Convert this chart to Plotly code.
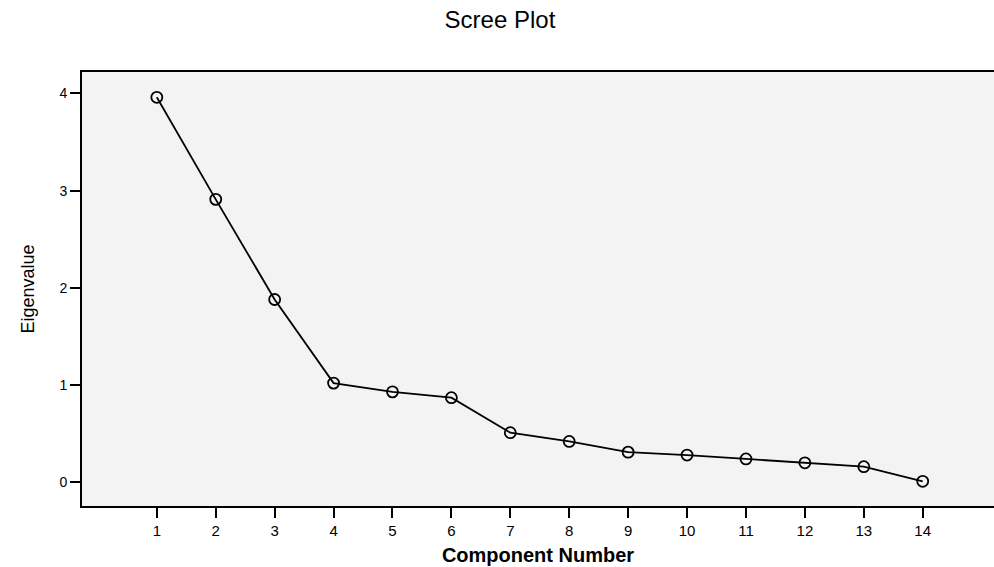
import plotly.graph_objects as go

components = list(range(1, 15))
eigenvalues = [3.96, 2.91, 1.88, 1.02, 0.93, 0.87, 0.51, 0.42, 0.31, 0.28, 0.24, 0.20, 0.16, 0.01]
x_ticks = list(range(1, 15))
y_ticks = [0, 1, 2, 3, 4]

fig = go.Figure()
fig.add_trace(go.Scatter(
    x=components, y=eigenvalues, mode="lines+markers",
    line=dict(color="black", width=1.8),
    marker=dict(symbol="circle-open", size=11, color="black", line=dict(width=1.8)),
    showlegend=False,
))

fig.update_layout(
    width=994, height=567,
    margin=dict(l=82, r=0, t=72, b=61),
    paper_bgcolor="white",
    plot_bgcolor="#f3f3f3",
    font=dict(family="Liberation Sans, Arial, sans-serif", color="black"),
    title=dict(text="Scree Plot", x=0.503, xanchor="center", y=0.966, yanchor="middle",
               font=dict(size=24, color="black")),
)
fig.update_xaxes(
    range=[-0.27, 15.21], tickvals=x_ticks, ticktext=[str(v) for v in x_ticks],
    showgrid=False, zeroline=False,
    showline=True, linecolor="black", linewidth=2, mirror=True,
    ticks="outside", ticklen=10, tickwidth=2, tickcolor="black",
    tickfont=dict(size=15),
    title=dict(text="<b>Component Number</b>", font=dict(size=20), standoff=10),
)
fig.update_yaxes(
    range=[-0.244, 4.22], tickvals=y_ticks, ticktext=[str(v) for v in y_ticks],
    showgrid=False, zeroline=False,
    showline=True, linecolor="black", linewidth=2, mirror=False,
    ticks="outside", ticklen=10, tickwidth=2, tickcolor="black",
    tickfont=dict(size=14),
    title=dict(text="Eigenvalue", font=dict(size=18), standoff=20),
)

fig.write_html("out.html", config={"displayModeBar": False},
               post_script="document.body.style.margin='0';document.body.style.overflow='hidden';")
